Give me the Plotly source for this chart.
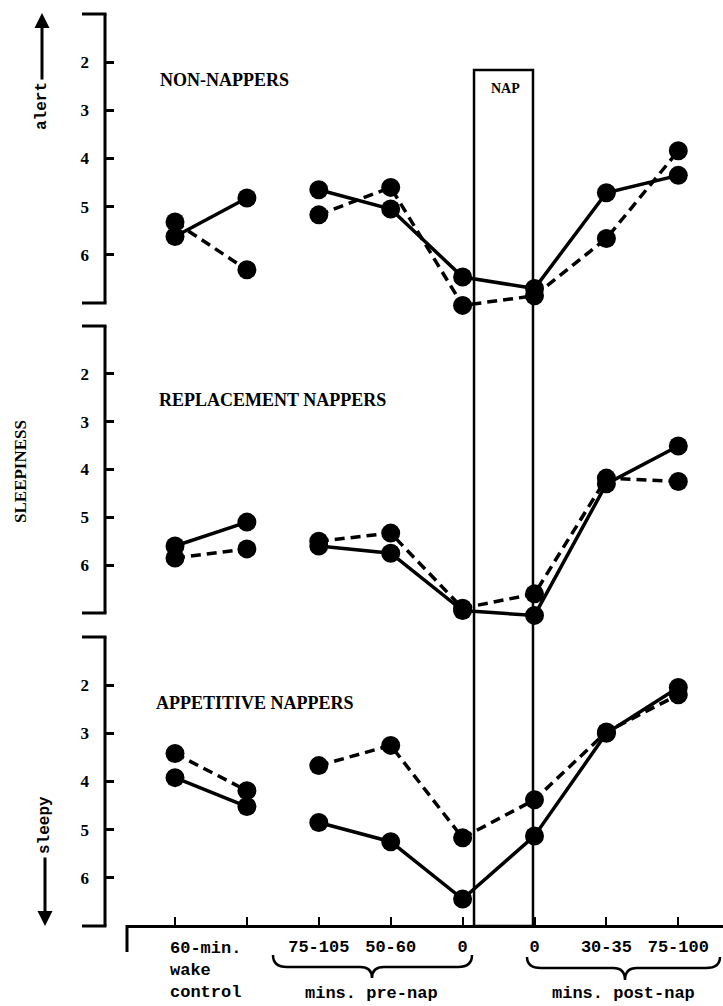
import plotly.graph_objects as go

# Session positions along the shared time axis
x_pos = [0, 1, 2, 3, 4, 5, 6, 7]
tick_text = ["", "", "75-105", "50-60", "0", "0", "30-35", "75-100"]

# Mean sleepiness ratings (1 = alert ... 7 = sleepy)
non_solid = [5.62, 4.82, 4.65, 5.05, 6.46, 6.70, 4.71, 4.35]
non_dashed = [5.32, 6.31, 5.17, 4.60, 7.05, 6.85, 5.66, 3.84]
rep_solid = [5.60, 5.10, 5.60, 5.75, 6.95, 7.05, 4.30, 3.51]
rep_dashed = [5.85, 5.66, 5.50, 5.33, 6.90, 6.60, 4.18, 4.25]
app_solid = [3.92, 4.52, 4.85, 5.25, 6.44, 5.13, 3.00, 2.05]
app_dashed = [3.42, 4.19, 3.67, 3.25, 5.17, 4.38, 2.97, 2.20]

panel_titles = ["NON-NAPPERS", "REPLACEMENT NAPPERS", "APPETITIVE NAPPERS"]
y_ticks = [2, 3, 4, 5, 6]
scale_min, scale_max = 1, 7

W, H = 723, 1006


def fx(px):
    return px / W


def fy(py):
    return 1 - py / H


SERIF = "Liberation Serif"
MONO = "Liberation Mono"

fig = go.Figure()

panels = [
    ("y", non_solid, non_dashed),
    ("y2", rep_solid, rep_dashed),
    ("y3", app_solid, app_dashed),
]

for yax, solid, dashed in panels:
    for vals, dash in ((solid, "solid"), (dashed, "10px,6px")):
        # wake-control pair and nap-day sequence are drawn unconnected
        for idx in (slice(0, 2), slice(2, 8)):
            fig.add_trace(go.Scatter(
                x=x_pos[idx], y=vals[idx], xaxis="x", yaxis=yax,
                mode="lines+markers",
                line=dict(color="black", width=3.5, dash=dash),
                marker=dict(color="black", size=19),
                cliponaxis=False, hoverinfo="skip",
            ))

# pixel extents of the 1..7 scale in each panel (top, bottom)
scale_px = [(14, 303), (326, 613), (637, 926)]
pad_top, pad_bot = 0.2, 0.35  # extra room (in rating units) so marks are not clipped

yaxis_common = dict(
    anchor="free", position=fx(105),
    tickmode="array", tickvals=y_ticks,
    ticks="inside", ticklen=8, tickwidth=2.5, tickcolor="black",
    showline=False,
    showgrid=False, zeroline=False,
    tickfont=dict(family=SERIF, size=17, color="black", weight="bold"),
    ticklabelstandoff=16,
)

yaxes = {}
for i, (top, bot) in enumerate(scale_px):
    unit = (bot - top) / (scale_max - scale_min)
    d_top = top - pad_top * unit
    d_bot = bot + pad_bot * unit
    name = "yaxis" if i == 0 else f"yaxis{i + 1}"
    yaxes[name] = dict(domain=[fy(d_bot), fy(d_top)],
                       range=[scale_max + pad_bot, scale_min - pad_top],
                       **yaxis_common)

fig.update_layout(
    width=W, height=H,
    margin=dict(l=0, r=0, t=0, b=0),
    paper_bgcolor="white", plot_bgcolor="rgba(0,0,0,0)",
    showlegend=False,
    xaxis=dict(
        domain=[fx(127), 1], range=[-0.6676, 7.6217],
        anchor="free", position=fy(926),
        tickmode="array", tickvals=x_pos, ticktext=tick_text,
        ticks="inside", ticklen=8, tickwidth=2, tickcolor="black",
        showline=True, linewidth=3, linecolor="black",
        showgrid=False, zeroline=False,
        tickfont=dict(family=MONO, size=17, color="black", weight="bold"),
        ticklabelstandoff=4,
    ),
    **yaxes,
)

shapes = []
# rating scale line with top and bottom caps in each panel
for ref in ("y", "y2", "y3"):
    shapes.append(dict(type="line", xref="paper", yref=ref,
                       x0=fx(105), x1=fx(105), y0=scale_min, y1=scale_max,
                       line=dict(color="black", width=3)))
    for yv in (scale_min, scale_max):
        shapes.append(dict(type="line", xref="paper", yref=ref,
                           x0=fx(82), x1=fx(106.5), y0=yv, y1=yv,
                           line=dict(color="black", width=3)))

# nap period box
shapes.append(dict(type="rect", xref="x", yref="paper",
                   x0=4.159, x1=4.979, y0=fy(926), y1=fy(70),
                   line=dict(color="black", width=2.5), layer="below"))

# left end of the time axis
shapes.append(dict(type="line", xref="paper", yref="paper",
                   x0=fx(127), x1=fx(127), y0=fy(925), y1=fy(952),
                   line=dict(color="black", width=3)))


def brace(x0, x1, ytop, ymid, xc, ycusp):
    p = lambda x, y: f"{fx(x):.5f},{fy(y):.5f}"
    return (f"M {p(x0, ytop)} Q {p(x0, ymid)} {p(x0 + 14, ymid)} "
            f"L {p(xc - 12, ymid)} Q {p(xc, ymid)} {p(xc, ycusp)} "
            f"Q {p(xc, ymid)} {p(xc + 12, ymid)} "
            f"L {p(x1 - 14, ymid)} Q {p(x1, ymid)} {p(x1, ytop)}")


for args in ((273, 472, 955, 967, 372, 978), (527, 720, 957, 968, 625, 980)):
    shapes.append(dict(type="path", xref="paper", yref="paper",
                       path=brace(*args),
                       line=dict(color="black", width=2.5)))

fig.update_layout(shapes=shapes)

ann = []
title_pos = [(158, 80), (157, 400), (154, 703)]
for text, (px, py) in zip(panel_titles, title_pos):
    ann.append(dict(text=text, xref="paper", yref="paper", x=fx(px), y=fy(py),
                    xanchor="left", yanchor="middle", showarrow=False,
                    font=dict(family=SERIF, size=18, color="black", weight="bold")))

ann.append(dict(text="NAP", xref="paper", yref="paper", x=fx(505), y=fy(89),
                xanchor="center", yanchor="middle", showarrow=False,
                font=dict(family=SERIF, size=14, color="black", weight="bold")))

ann.append(dict(text="60-min.<br>wake<br>control", xref="paper", yref="paper",
                x=fx(168), y=fy(937), xanchor="left", yanchor="top", align="left",
                showarrow=False,
                font=dict(family=MONO, size=17, color="black", weight="bold")))

for text, px in (("mins. pre-nap", 372), ("mins. post-nap", 623)):
    ann.append(dict(text=text, xref="paper", yref="paper", x=fx(px), y=fy(993),
                    xanchor="center", yanchor="middle", showarrow=False,
                    font=dict(family=MONO, size=17, color="black", weight="bold")))

# vertical scale labels
ann.append(dict(text="SLEEPINESS", xref="paper", yref="paper", x=fx(20), y=fy(472),
                textangle=-90, xanchor="center", yanchor="middle", showarrow=False,
                font=dict(family=SERIF, size=17, color="black", weight="bold")))
ann.append(dict(text="alert", xref="paper", yref="paper", x=fx(42), y=fy(106),
                textangle=-90, xanchor="center", yanchor="middle", showarrow=False,
                font=dict(family=MONO, size=16, color="black", weight="bold")))
ann.append(dict(text="", xref="paper", yref="paper", x=fx(42), y=fy(13),
                ax=0, ay=68, showarrow=True, arrowhead=2, arrowsize=1,
                arrowwidth=3, arrowcolor="black"))
ann.append(dict(text="sleepy", xref="paper", yref="paper", x=fx(45), y=fy(825),
                textangle=-90, xanchor="center", yanchor="middle", showarrow=False,
                font=dict(family=MONO, size=16, color="black", weight="bold")))
ann.append(dict(text="", xref="paper", yref="paper", x=fx(45), y=fy(926),
                ax=0, ay=-70, showarrow=True, arrowhead=2, arrowsize=1,
                arrowwidth=3, arrowcolor="black"))

fig.update_layout(annotations=ann)

fig.write_html("out.html")
